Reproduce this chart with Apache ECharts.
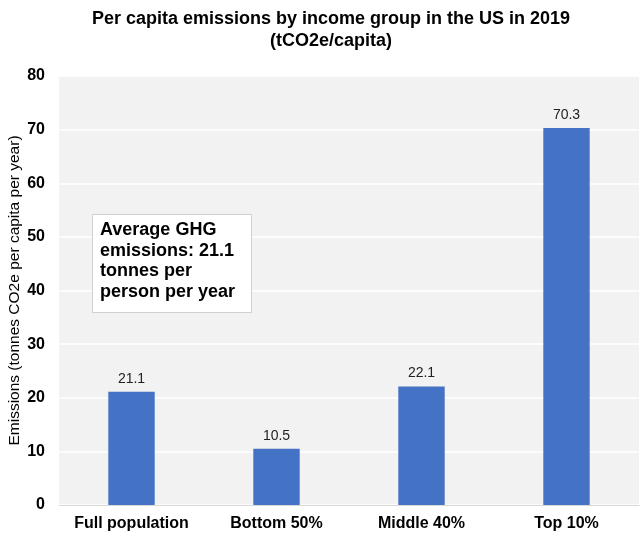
<!DOCTYPE html>
<html><head><meta charset="utf-8">
<script src="https://cdn.jsdelivr.net/npm/echarts@6/dist/echarts.min.js"></script>
<style>html,body{margin:0;padding:0;background:#fff}#c{width:640px;height:537px}</style>
</head><body><div id="c"></div>
<script>
const categories = ["Full population", "Bottom 50%", "Middle 40%", "Top 10%"];
const emissions = [21.1, 10.5, 22.1, 70.3];
const yTicks = [0, 10, 20, 30, 40, 50, 60, 70, 80];

const FONT = 'Liberation Sans, Arial, sans-serif';
const chart = echarts.init(document.getElementById('c'));
chart.setOption({
  animation: false,
  textStyle: { fontFamily: FONT },
  title: [{
    text: 'Per capita emissions by income group in the US in 2019\n(tCO2e/capita)',
    left: 326, top: 3, textAlign: 'center',
    textStyle: { fontSize: 18, fontWeight: 'bold', color: '#000', lineHeight: 22, fontFamily: FONT }
  }, {
    text: 'Average GHG\nemissions: 21.1\ntonnes per\nperson per year',
    left: 92, top: 214,
    backgroundColor: '#fff', borderColor: '#d0d0d0', borderWidth: 1,
    padding: [6, 17, 11, 8],
    textStyle: { fontSize: 18, fontWeight: 'bold', color: '#000', lineHeight: 20.5, fontFamily: FONT }
  }],
  grid: { left: 59, right: 1, top: 76, bottom: 32, show: true, backgroundColor: '#f2f2f2', borderWidth: 0, outerBoundsMode: 'none', containLabel: false },
  xAxis: {
    type: 'category', data: categories,
    axisTick: { show: false },
    axisLine: { lineStyle: { color: '#d9d9d9' } },
    axisLabel: { interval: 0, fontSize: 16, fontWeight: 'bold', color: '#000', margin: 11 }
  },
  yAxis: {
    type: 'value', min: yTicks[0], max: yTicks[yTicks.length - 1], interval: 10,
    name: 'Emissions (tonnes CO2e per capita per year)', nameLocation: 'middle', nameGap: 36,
    nameMoveOverlap: false,
    nameTextStyle: { fontSize: 15.5, color: '#000' },
    axisLine: { show: false }, axisTick: { show: false },
    axisLabel: { fontSize: 16, fontWeight: 'bold', color: '#000', margin: 14 },
    splitLine: { lineStyle: { color: '#ffffff', width: 1.5 } }
  },
  series: [{
    type: 'bar', data: emissions, barWidth: '32%',
    itemStyle: { color: '#4472c4' },
    label: { show: true, position: 'top', fontSize: 14, color: '#222', distance: 6 }
  }]
});
</script></body></html>
